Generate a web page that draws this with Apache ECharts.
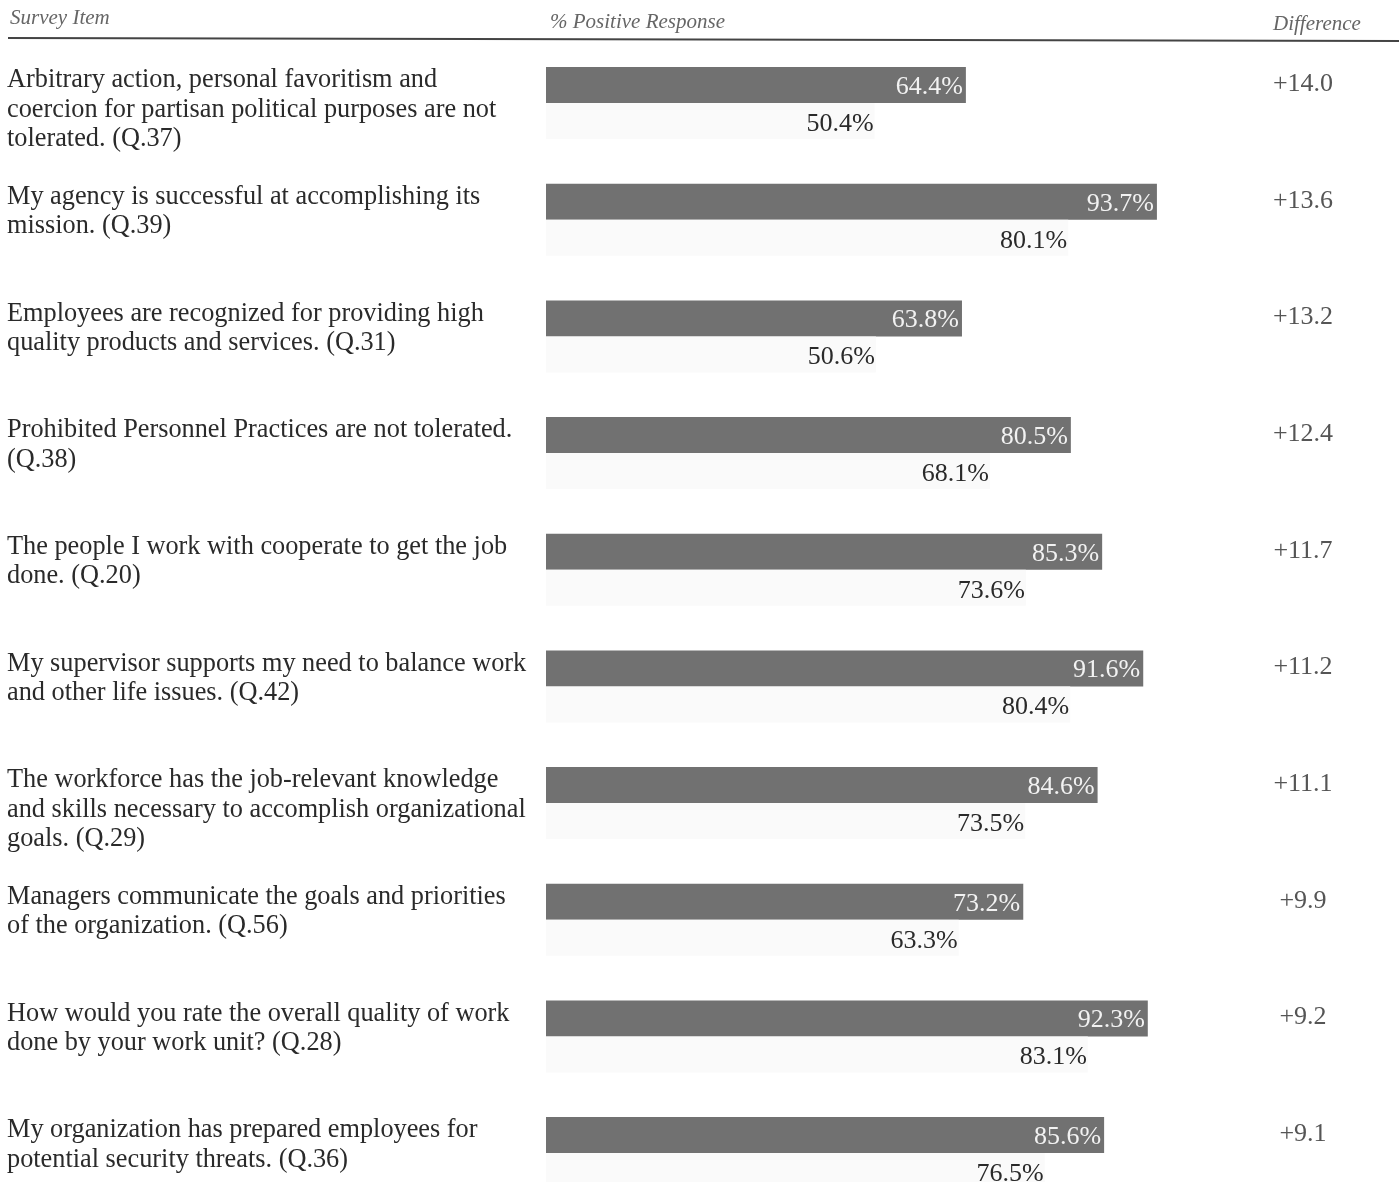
<!DOCTYPE html>
<html>
<head>
<meta charset="utf-8">
<script src="https://cdn.jsdelivr.net/npm/echarts@6/dist/echarts.min.js"></script>
<style>
html,body{margin:0;padding:0;background:#fff;}
#chart{width:1399px;height:1182px;}
</style>
</head>
<body>
<div id="chart"></div>
<script>
const surveyItems = [
  "Arbitrary action, personal favoritism and\ncoercion for partisan political purposes are not\ntolerated. (Q.37)",
  "My agency is successful at accomplishing its\nmission. (Q.39)",
  "Employees are recognized for providing high\nquality products and services. (Q.31)",
  "Prohibited Personnel Practices are not tolerated.\n(Q.38)",
  "The people I work with cooperate to get the job\ndone. (Q.20)",
  "My supervisor supports my need to balance work\nand other life issues. (Q.42)",
  "The workforce has the job-relevant knowledge\nand skills necessary to accomplish organizational\ngoals. (Q.29)",
  "Managers communicate the goals and priorities\nof the organization. (Q.56)",
  "How would you rate the overall quality of work\ndone by your work unit? (Q.28)",
  "My organization has prepared employees for\npotential security threats. (Q.36)"
];
const currentPositive = [64.4, 93.7, 63.8, 80.5, 85.3, 91.6, 84.6, 73.2, 92.3, 85.6];
const comparisonPositive = [50.4, 80.1, 50.6, 68.1, 73.6, 80.4, 73.5, 63.3, 83.1, 76.5];
const differenceLabels = ["+14.0", "+13.6", "+13.2", "+12.4", "+11.7", "+11.2", "+11.1", "+9.9", "+9.2", "+9.1"];
const headers = ["Survey Item", "% Positive Response", "Difference"];

const cats = surveyItems.map((_, i) => "r" + i);
const serif = "'Liberation Serif', 'DejaVu Serif', serif";
const chart = echarts.init(document.getElementById('chart'), null, {renderer: 'canvas'});

const GRID_LEFT = 546, GRID_W = 652, GRID_TOP = 44.7, GRID_H = 1166.7;

chart.setOption({
  animation: false,
  backgroundColor: '#ffffff',
  title: [
    {text: headers[0], left: 5, top: 3, textStyle: {fontFamily: serif, fontStyle: 'italic', fontWeight: 'normal', fontSize: 21, color: '#666'}},
    {text: headers[1], left: 545, top: 7, textStyle: {fontFamily: serif, fontStyle: 'italic', fontWeight: 'normal', fontSize: 21, color: '#666'}},
    {text: headers[2], left: 1268, top: 9, textStyle: {fontFamily: serif, fontStyle: 'italic', fontWeight: 'normal', fontSize: 21, color: '#666'}}
  ],
  graphic: [
    {type: 'line', shape: {x1: 8, y1: 38, x2: 1399, y2: 41}, style: {stroke: '#444', lineWidth: 2}, silent: true}
  ],
  grid: [
    {left: GRID_LEFT, width: GRID_W, top: GRID_TOP, height: GRID_H, outerBoundsMode: 'none', containLabel: false},
    {left: GRID_LEFT, width: GRID_W, top: GRID_TOP - 37.5, height: GRID_H, outerBoundsMode: 'none', containLabel: false}
  ],
  xAxis: [
    {gridIndex: 0, type: 'value', min: 0, max: 100, show: false},
    {gridIndex: 1, type: 'value', min: 0, max: 100, show: false}
  ],
  yAxis: [
    {gridIndex: 0, type: 'category', data: cats, inverse: true, show: false},
    {gridIndex: 1, type: 'category', data: surveyItems, inverse: true, position: 'left',
     axisLine: {show: false}, axisTick: {show: false}, splitLine: {show: false},
     axisLabel: {show: true, interval: 0, align: 'left', verticalAlign: 'top', margin: 539,
       fontFamily: serif, fontSize: 26.3, lineHeight: 29.5, color: '#2a2a2a'}},
    {gridIndex: 1, type: 'category', data: differenceLabels, inverse: true, position: 'right',
     axisLine: {show: false}, axisTick: {show: false}, splitLine: {show: false},
     axisLabel: {show: true, interval: 0, align: 'center', verticalAlign: 'top', margin: 105,
       fontFamily: serif, fontSize: 26, lineHeight: 37, color: '#555'}}
  ],
  series: [
    {
      type: 'bar', xAxisIndex: 0, yAxisIndex: 0, data: currentPositive,
      barWidth: 36, barGap: '0%',
      itemStyle: {color: '#717171'},
      label: {show: true, position: 'insideRight', distance: 3, offset: [0, 2], formatter: p => p.value.toFixed(1) + '%',
        fontFamily: serif, fontSize: 26, color: '#f2f2f2'},
      silent: true
    },
    {
      type: 'bar', xAxisIndex: 0, yAxisIndex: 0, data: comparisonPositive,
      barWidth: 36, barGap: '0%',
      itemStyle: {color: '#fafafa'},
      label: {show: true, position: 'insideRight', distance: 1, offset: [0, 3], formatter: p => p.value.toFixed(1) + '%',
        fontFamily: serif, fontSize: 26, color: '#2a2a2a'},
      silent: true
    }
  ]
});
</script>
</body>
</html>
